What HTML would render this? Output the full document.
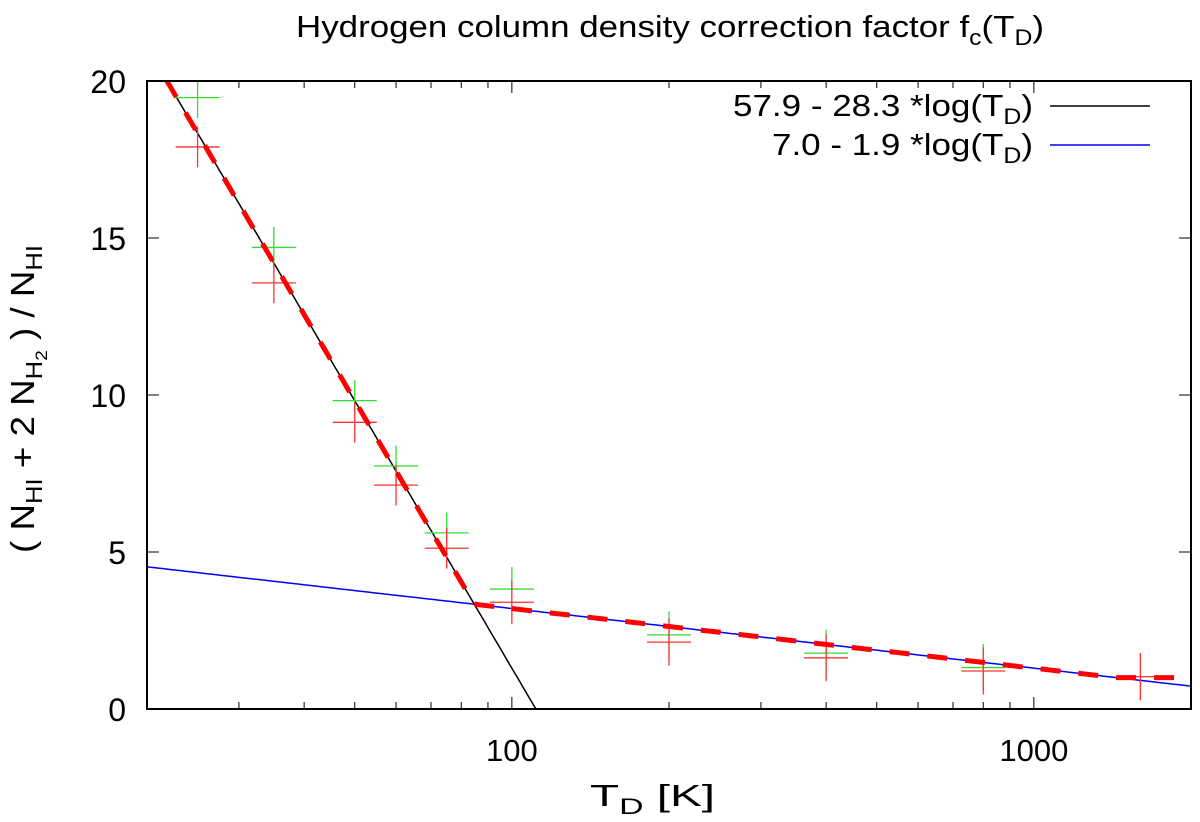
<!DOCTYPE html>
<html><head><meta charset="utf-8"><style>
html,body{margin:0;padding:0;background:#fff;overflow:hidden;}
svg{display:block;font-family:"Liberation Sans",sans-serif;}
</style></head><body>
<svg id="chart" width="1200" height="822" viewBox="0 0 1200 822">
<g id="marks"></g>
<g id="axes"></g>
<text x="296" y="37" font-size="31" textLength="748" lengthAdjust="spacingAndGlyphs">Hydrogen column density correction factor f<tspan font-size="22" dy="8">c</tspan><tspan dy="-8">(T</tspan><tspan font-size="22" dy="8">D</tspan><tspan dy="-8">)</tspan></text>
<g font-size="31">
<text x="733" y="116" textLength="300" lengthAdjust="spacingAndGlyphs">57.9 - 28.3 *log(T<tspan font-size="22" dy="8">D</tspan><tspan dy="-8">)</tspan></text>
<line x1="1050" y1="106" x2="1150" y2="106" stroke="#000" stroke-width="1.5"/>
<text x="772" y="155" textLength="261" lengthAdjust="spacingAndGlyphs">7.0 - 1.9 *log(T<tspan font-size="22" dy="8">D</tspan><tspan dy="-8">)</tspan></text>
<line x1="1050" y1="145" x2="1150" y2="145" stroke="#00f" stroke-width="1.5"/>
</g>
<text x="590" y="806" font-size="31" textLength="125" lengthAdjust="spacingAndGlyphs">T<tspan font-size="22" dy="8">D</tspan><tspan dy="-8"> [K]</tspan></text>
<text transform="translate(34,553) rotate(-90)" font-size="33" textLength="308" lengthAdjust="spacingAndGlyphs">( N<tspan font-size="23" dy="8">HI</tspan><tspan dy="-8"> + 2 N</tspan><tspan font-size="23" dy="8">H</tspan><tspan font-size="17" dy="5">2</tspan><tspan dy="-13"> ) /  N</tspan><tspan font-size="23" dy="8">HI</tspan></text>
</svg>
<script>
const temps=[25,35,50,60,75,100,200,400,800,1600];
const greenVals=[19.47,14.7,9.82,7.74,5.61,3.82,2.36,1.78,1.32,1.03];
const redVals=[17.9,13.57,9.13,7.13,5.12,3.4,2.13,1.63,1.21,1.03];
const yErr=[0.65,0.65,0.65,0.65,0.65,0.7,0.75,0.75,0.75,0.75];
const fitBlack=[57.9,28.3];
const fitBlue=[7.0,1.9];
const floorVal=1.0;
const yTicks=[0,5,10,15,20];
const xMajor=[100,1000];
const xMinor=[30,40,50,60,70,80,90,200,300,400,500,600,700,800,900];

const L=147,R=1191,T=81,B=709,xmin=20,xmax=2000,ymin=0,ymax=20;
const lx0=Math.log10(xmin),lx1=Math.log10(xmax);
function sx(v){return L+(Math.log10(v)-lx0)/(lx1-lx0)*(R-L);}
function sy(v){return B-(v-ymin)/(ymax-ymin)*(B-T);}
const NS='http://www.w3.org/2000/svg';
const marks=document.getElementById('marks'),axes=document.getElementById('axes');
function mk(tag,attrs,parent){const e=document.createElementNS(NS,tag);for(const k in attrs)e.setAttribute(k,attrs[k]);parent.appendChild(e);return e;}

const defs=mk('defs',{},marks);
const cp=mk('clipPath',{id:'clip'},defs);
mk('rect',{x:L,y:T,width:R-L,height:B-T},cp);
const g=mk('g',{'clip-path':'url(#clip)'},marks);

function fitPath(coef,fn){let d='';for(let i=0;i<=300;i++){const lv=lx0+(lx1-lx0)*i/300;const v=Math.pow(10,lv);const y=fn?fn(v):coef[0]-coef[1]*lv;d+=(i?'L':'M')+sx(v).toFixed(1)+','+sy(y).toFixed(1);}return d;}

let p=mk('path',{d:fitPath(fitBlack),stroke:'#000','stroke-width':1.5,fill:'none'},g);


p=mk('path',{d:fitPath(fitBlue),stroke:'#00f','stroke-width':1.5,fill:'none'},g);



function drawCross(t,v,e,color,name){
  const x=sx(t),y=sy(v);
  const c=mk('g',{stroke:color,'stroke-width':1.3},g);
  
  
  mk('line',{x1:x-22,y1:y,x2:x+22,y2:y},c);
  mk('line',{x1:x,y1:sy(v-e),x2:x,y2:sy(v+e)},c);
}
temps.forEach((t,i)=>{
  drawCross(t,greenVals[i],yErr[i],'#33dd33','point-green');
  drawCross(t,redVals[i],yErr[i],'#ff3333','point-red');
});

p=mk('path',{d:fitPath(null,v=>{const lv=Math.log10(v);return Math.max(fitBlack[0]-fitBlack[1]*lv,fitBlue[0]-fitBlue[1]*lv,floorVal);}),stroke:'#f00','stroke-width':5,fill:'none','stroke-dasharray':'20,18'},g);



const box=mk('rect',{x:L,y:T,width:R-L,height:B-T,fill:'none',stroke:'#000','stroke-width':2},axes);


yTicks.forEach(v=>{
  const y=sy(v);
  mk('line',{x1:L,y1:y,x2:L+12,y2:y,stroke:'#000','stroke-width':1},axes);
  mk('line',{x1:R,y1:y,x2:R-12,y2:y,stroke:'#000','stroke-width':1},axes);
  const t=mk('text',{x:L-21,y:y+12,'font-size':32,'text-anchor':'end'},axes);
  t.textContent=v;
  
  
});
xMajor.forEach(v=>{
  const x=sx(v);
  mk('line',{x1:x,y1:B,x2:x,y2:B-12,stroke:'#000','stroke-width':1},axes);
  mk('line',{x1:x,y1:T,x2:x,y2:T+12,stroke:'#000','stroke-width':1},axes);
  const t=mk('text',{x:x,y:B+52,'font-size':31,'text-anchor':'middle'},axes);
  t.textContent=v;
  
  
});
xMinor.forEach(v=>{
  const x=sx(v);
  mk('line',{x1:x,y1:B,x2:x,y2:B-7,stroke:'#000','stroke-width':1},axes);
  mk('line',{x1:x,y1:T,x2:x,y2:T+7,stroke:'#000','stroke-width':1},axes);
});
</script>
</body></html>
